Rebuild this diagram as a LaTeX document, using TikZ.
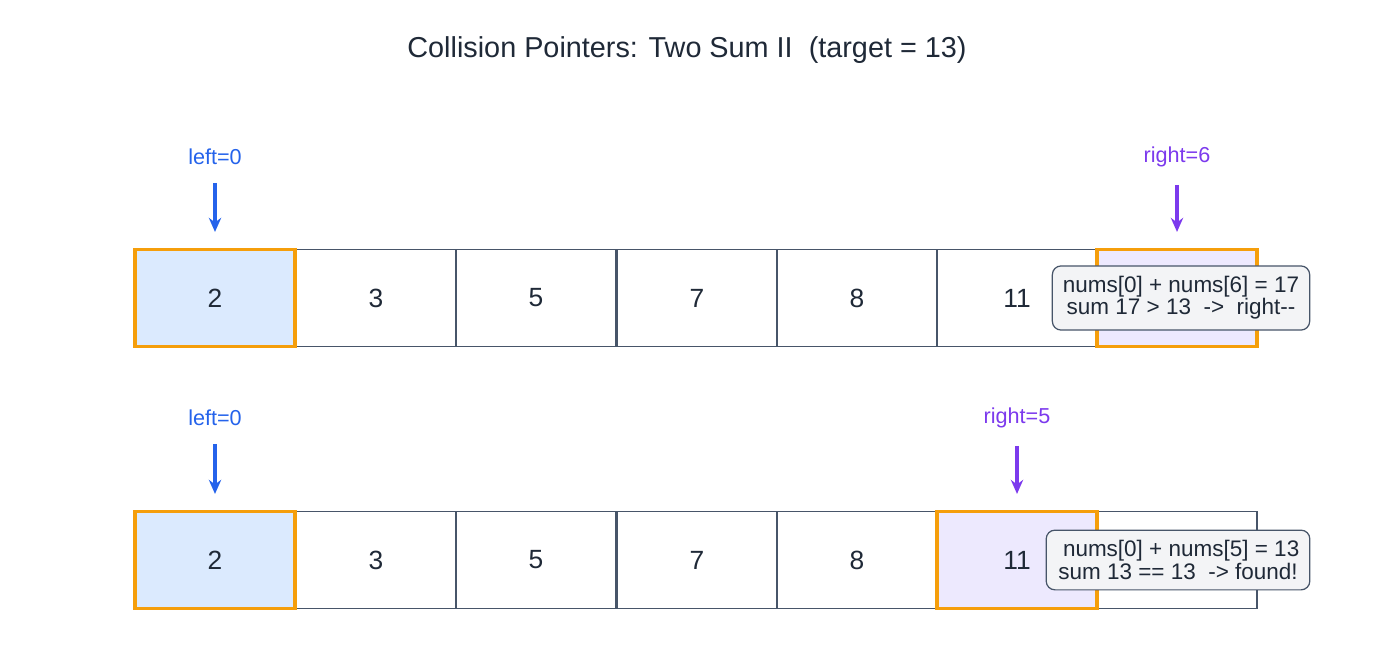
\documentclass[tikz,border=0pt]{standalone}
\usepackage{fontspec}
\setmainfont{Liberation Sans}
\usetikzlibrary{arrows.meta}
\definecolor{ink}{HTML}{1F2937}
\definecolor{cellline}{HTML}{475569}
\definecolor{hiline}{HTML}{F59E0B}
\definecolor{leftc}{HTML}{2563EB}
\definecolor{rightc}{HTML}{7C3AED}
\definecolor{leftfill}{HTML}{DBEAFE}
\definecolor{rightfill}{HTML}{EDE9FE}
\definecolor{notefill}{HTML}{F3F4F6}
\tikzset{
  cell/.style={draw=cellline, line width=1.1pt, fill=white, minimum width=3.206cm, minimum height=1.94cm, inner sep=0pt, font=\fontsize{15}{17}\selectfont, text=ink},
  hicell/.style={cell, draw=hiline, line width=2pt},
  ptrlabel/.style={inner sep=0pt, font=\fontsize{12.3}{14}\selectfont},
  ptr/.style={-{Stealth[length=8pt,width=7pt]}, line width=1.9pt, shorten <=10pt, shorten >=9pt},
  note/.style={draw=cellline, line width=0.7pt, fill=notefill, rounded corners=5pt, inner xsep=6pt, inner ysep=6pt, align=center, font=\fontsize{12.8}{12.6}\selectfont, text=ink}
}
\begin{document}
\begin{tikzpicture}[x=0.02cm, y=-0.02cm]
\useasboundingbox (0,0) rectangle (1375,662);
\node[font=\fontsize{16.4}{19}\selectfont, text=ink] (title) at (687,50) {Collision Pointers: Two Sum II\ \ (target = 13)};
% step 1
\node[cell] (a1) at (376,298) {3};
\node[cell] (a2) at (536,298) {5};
\node[cell] (a3) at (697,298) {7};
\node[cell] (a4) at (857,298) {8};
\node[cell] (a5) at (1017,298) {11};
\node[hicell, fill=leftfill] (a0) at (215,298) {2};
\node[hicell, fill=rightfill] (a6) at (1177,298) {};
\node[ptrlabel, text=leftc] (la) at (215,157) {left=0};
\node[ptrlabel, text=rightc] (ra) at (1177,157) {right=6};
\draw[ptr, leftc] (la) -- (a0);
\draw[ptr, rightc] (ra) -- (a6);
\node[note] (na) at (1181,298) {nums[0] + nums[6] = 17\\sum 17 > 13\ \ ->\ \ right-{}-};
% step 2
\node[cell] (b1) at (376,560) {3};
\node[cell] (b2) at (536,560) {5};
\node[cell] (b3) at (697,560) {7};
\node[cell] (b4) at (857,560) {8};
\node[cell] (b6) at (1177,560) {};
\node[hicell, fill=leftfill] (b0) at (215,560) {2};
\node[hicell, fill=rightfill] (b5) at (1017,560) {11};
\node[ptrlabel, text=leftc] (lb) at (215,418) {left=0};
\node[ptrlabel, text=rightc] (rb) at (1017,418) {right=5};
\draw[ptr, leftc] (lb) -- (b0);
\draw[ptr, rightc] (rb) -- (b5);
\node[note] (nb) at (1178,560) {\ nums[0] + nums[5] = 13\\sum 13 == 13\ \ -> found!};
\end{tikzpicture}
\end{document}
